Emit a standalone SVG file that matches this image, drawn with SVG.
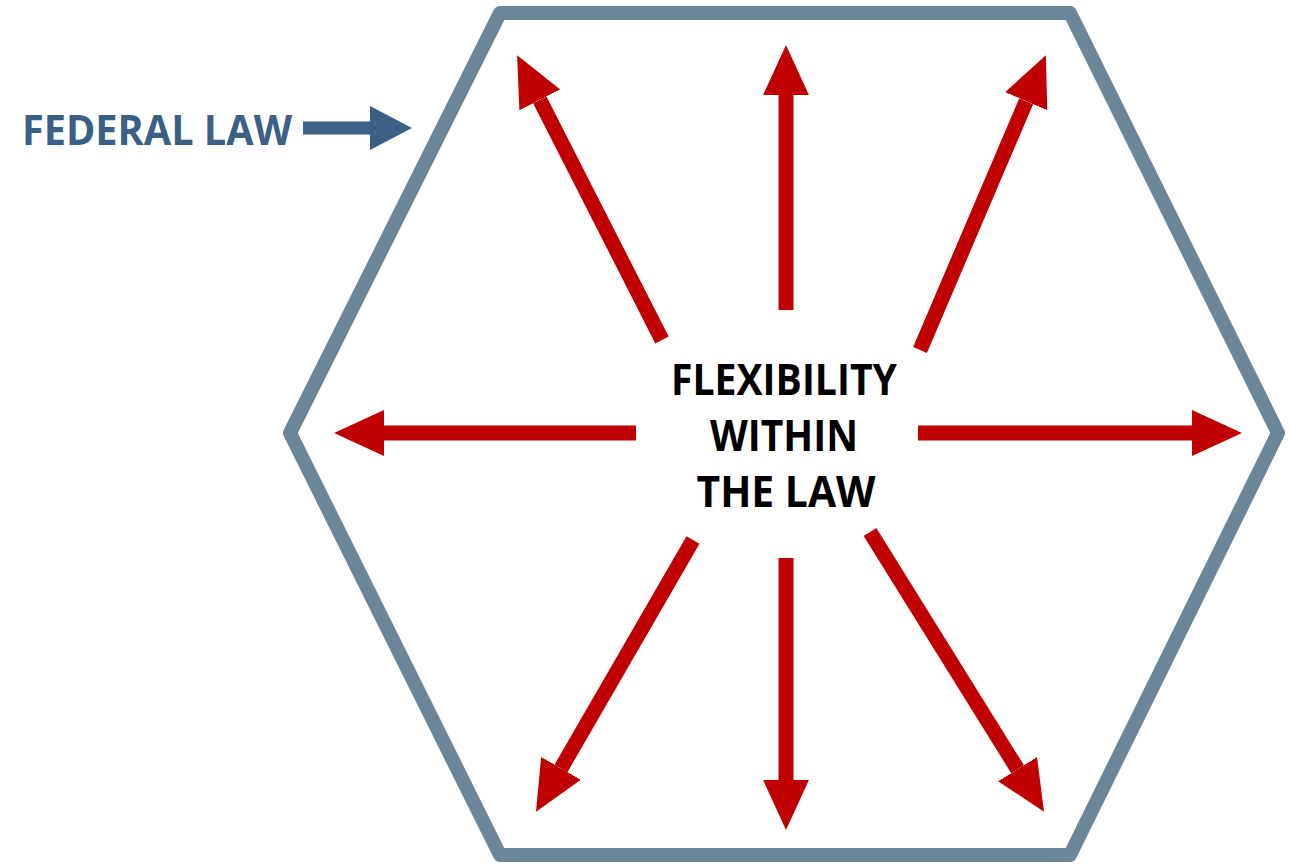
<svg xmlns="http://www.w3.org/2000/svg" width="1289" height="865" viewBox="0 0 1289 865">
<style>
.hex{fill:none;stroke:#6B8699;stroke-width:14;stroke-linejoin:round}
.ray{stroke:#C00000;stroke-width:15;fill:none}
.lbl{font-family:"Open Sans","Liberation Sans",sans-serif;font-weight:bold}
.center{font-size:43px;fill:#000;text-anchor:middle}
.fed{font-size:41px;fill:#3A6185}
</style>
<defs>
<marker id="rh" markerUnits="userSpaceOnUse" markerWidth="50" markerHeight="50" viewBox="0 -23 48 46" refX="0" refY="0" orient="auto">
<path d="M0,-22 L48,0 L0,22 z" fill="#C00000"/>
</marker>
<marker id="bh" markerUnits="userSpaceOnUse" markerWidth="44" markerHeight="46" viewBox="0 -23 42 46" refX="0" refY="0" orient="auto">
<path d="M0,-22 L42,0 L0,22 z" fill="#3A6185"/>
</marker>
</defs>
<g id="federal-law">
<polygon class="hex" points="500,13 1070,13 1278,433 1070,855 500,855 290,433"/>
<text class="lbl fed" x="22" y="145" textLength="270" lengthAdjust="spacingAndGlyphs">FEDERAL LAW</text>
</g>
<g id="flexibility">
<text class="lbl center" x="784" y="395" textLength="226" lengthAdjust="spacingAndGlyphs">FLEXIBILITY</text>
<text class="lbl center" x="784" y="451" textLength="148" lengthAdjust="spacingAndGlyphs">WITHIN</text>
<text class="lbl center" x="786" y="507" textLength="179" lengthAdjust="spacingAndGlyphs">THE LAW</text>
</g>
<g id="connectors">
<line x1="303" y1="128" x2="370" y2="128" stroke="#3A6185" stroke-width="13" marker-end="url(#bh)"/>
<line class="ray" x1="786" y1="310" x2="786" y2="95" marker-end="url(#rh)"/>
<line class="ray" x1="786" y1="558" x2="786" y2="780" marker-end="url(#rh)"/>
<line class="ray" x1="636" y1="433" x2="384" y2="433" marker-end="url(#rh)"/>
<line class="ray" x1="918" y1="433" x2="1192" y2="433" marker-end="url(#rh)"/>
<line class="ray" x1="662" y1="340" x2="539.8" y2="99.8" marker-end="url(#rh)"/>
<line class="ray" x1="920" y1="350" x2="1026.2" y2="101.2" marker-end="url(#rh)"/>
<line class="ray" x1="693" y1="540" x2="561" y2="768.4" marker-end="url(#rh)"/>
<line class="ray" x1="870" y1="532" x2="1017.6" y2="769.2" marker-end="url(#rh)"/>
</g>
</svg>
